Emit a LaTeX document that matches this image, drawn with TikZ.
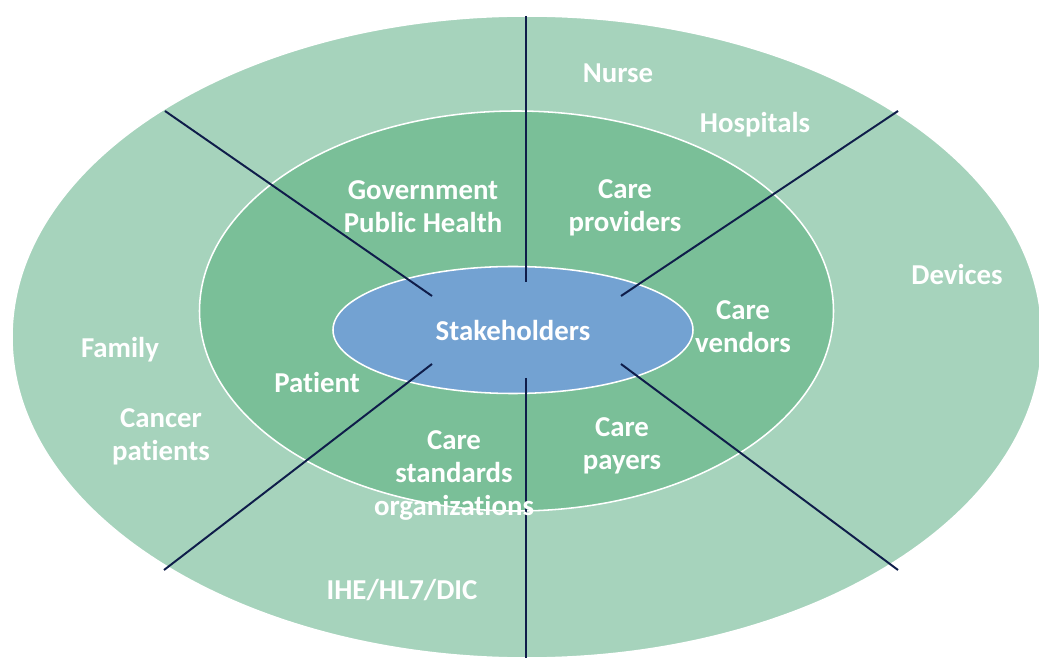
\documentclass[tikz,border=0pt]{standalone}
\usepackage{fontspec}
\setmainfont{Carlito}[Ligatures=NoCommon]
\usepackage{tikz}
\usetikzlibrary{shapes.geometric}
\definecolor{outerband}{HTML}{A6D3BC}
\definecolor{innerband}{HTML}{7ABF98}
\definecolor{hubblue}{HTML}{73A2D2}
\definecolor{navy}{HTML}{0F1D4A}

\tikzset{
  ring/.style={ellipse,draw=white,line width=1.1pt,inner sep=0pt},
  spoke/.style={navy,line width=1.4pt},
  lbl/.style={text=white,align=center,anchor=base,inner sep=0pt}
}

\begin{document}
\begin{tikzpicture}[font=\fontsize{20.5}{23.5}\selectfont\bfseries]
  \useasboundingbox (0,0) rectangle (25.975,16.45);
  % rings
  \node[ring,fill=outerband,minimum width=25.75cm,minimum height=16.05cm] (outer) at (13.175,8.025) {};
  \node[ring,fill=innerband,minimum width=15.85cm,minimum height=10cm] (middle) at (12.9125,8.675) {};
  \node[ring,fill=hubblue,text=white,minimum width=9cm,minimum height=3.175cm] (hub) at (12.825,8.2) {Stakeholders};
  % spokes
  \foreach \xa/\ya/\xb/\yb in {13.15/16.05/13.15/9.4,13.15/7.0/13.15/0,
      4.125/13.675/10.8/9.05,22.45/13.675/15.525/9.05,
      4.1/2.2/10.8/7.35,22.45/2.2/15.525/7.35}{
    \draw[spoke] (\xa,\ya) -- (\xb,\yb);}
  % labels (base = last line)
  \foreach \x/\y/\n/\t in {15.45/14.375/nurse/Nurse,18.875/13.125/hosp/Hospitals,
      15.625/10.65/prov/Care\\providers,23.925/9.325/dev/Devices,
      10.575/10.625/gov/Government\\Public Health,18.575/7.625/vend/Care\\vendors,
      15.55/4.7/pay/Care\\payers,3.0/7.5/fam/Family,7.925/6.625/pat/Patient,
      4.025/4.925/canc/Cancer\\patients,11.35/3.55/std/Care\\standards\\organizations,
      10.05/1.45/ihe/{IHE/HL7/DIC}}{
    \node[lbl] (\n) at (\x,\y) {\t};}
\end{tikzpicture}
\end{document}
